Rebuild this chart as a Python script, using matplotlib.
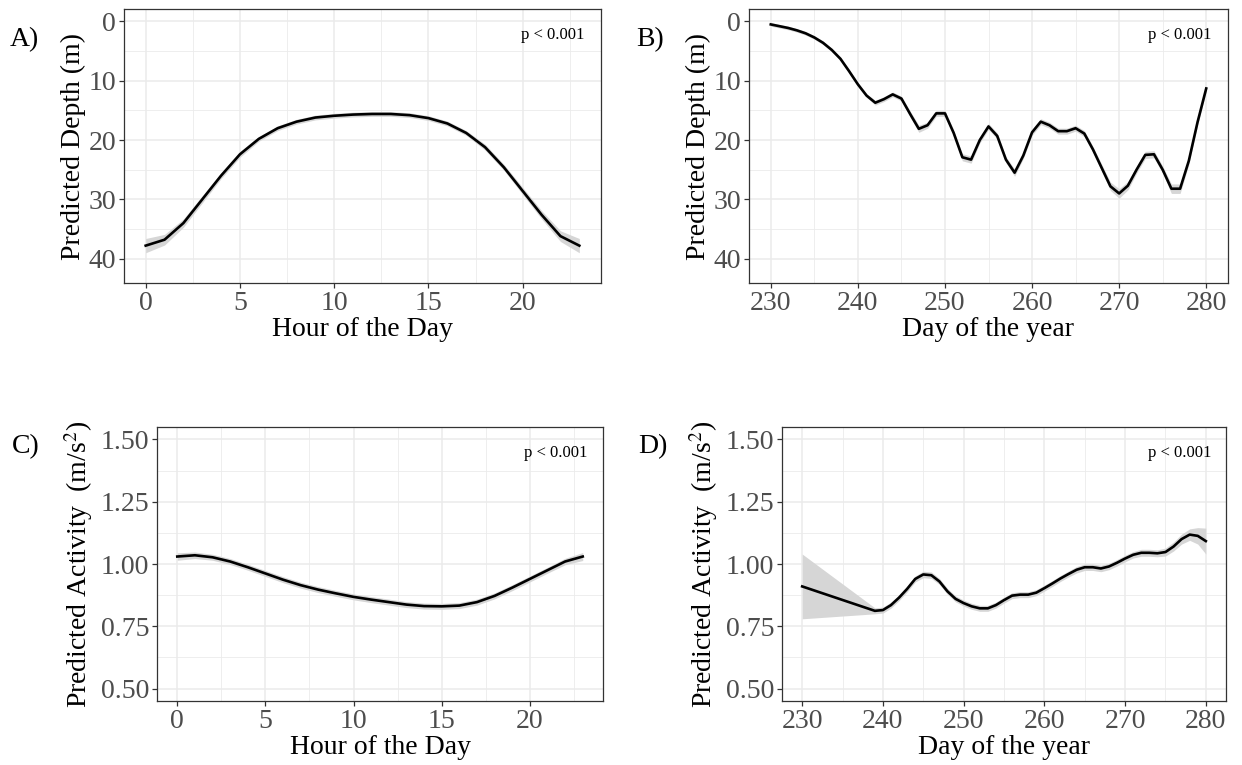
import numpy as np
import matplotlib
matplotlib.use("Agg")
import matplotlib.pyplot as plt
from matplotlib.ticker import MultipleLocator, FormatStrFormatter

plt.rcParams['font.family'] = ['Liberation Serif', 'DejaVu Serif']
plt.rcParams['mathtext.fontset'] = 'stix'

# Panel A - depth by hour
hours = list(range(24))
depth_hour = [37.8, 36.8, 34.0, 30.0, 26.0, 22.4, 19.8, 18.0, 16.9, 16.2, 15.9, 15.7,
              15.6, 15.6, 15.8, 16.3, 17.2, 18.8, 21.2, 24.6, 28.6, 32.6, 36.2, 37.8]
depth_hour_se = [1.2, 0.9, 0.7, 0.6, 0.5, 0.5, 0.4, 0.4, 0.4, 0.4, 0.4, 0.4,
                 0.4, 0.4, 0.4, 0.4, 0.4, 0.4, 0.5, 0.5, 0.6, 0.7, 0.9, 1.2]

# Panel B - depth by day of year
days = list(range(230, 281))
depth_day = [0.5, 0.8, 1.1, 1.5, 2.0, 2.7, 3.6, 4.8, 6.3, 8.4, 10.6, 12.5, 13.7, 13.1,
             12.3, 13.0, 15.6, 18.1, 17.5, 15.5, 15.5, 18.8, 22.9, 23.3, 20.0, 17.7,
             19.3, 23.3, 25.5, 22.6, 18.7, 16.9, 17.5, 18.5, 18.5, 18.0, 18.9, 21.6,
             24.7, 27.8, 29.0, 27.7, 25.0, 22.5, 22.4, 25.0, 28.2, 28.2, 23.5, 17.0, 11.3]
depth_day_se = [0.3, 0.3, 0.3, 0.3, 0.3, 0.3, 0.3, 0.3, 0.3, 0.3, 0.3, 0.3, 0.4, 0.4,
                0.4, 0.4, 0.5, 0.6, 0.5, 0.5, 0.5, 0.5, 0.6, 0.6, 0.5, 0.5,
                0.5, 0.5, 0.6, 0.5, 0.5, 0.5, 0.5, 0.5, 0.5, 0.5, 0.5, 0.5,
                0.6, 0.7, 0.8, 0.7, 0.6, 0.6, 0.6, 0.6, 0.8, 0.8, 0.6, 0.5, 0.5]

# Panel C - activity by hour
act_hour = [1.030, 1.035, 1.027, 1.010, 0.987, 0.962, 0.937, 0.915, 0.897, 0.882, 0.868, 0.857,
            0.847, 0.837, 0.831, 0.830, 0.833, 0.847, 0.872, 0.905, 0.940, 0.975, 1.010, 1.030]
act_hour_se = [0.015, 0.013, 0.012, 0.012, 0.012, 0.012, 0.012, 0.012, 0.012, 0.012, 0.012, 0.012,
               0.012, 0.012, 0.012, 0.012, 0.012, 0.012, 0.012, 0.012, 0.012, 0.012, 0.013, 0.016]

# Panel D - activity by day of year
act_days = [230] + list(range(239, 281))
act_day = [0.910, 0.812, 0.815, 0.835, 0.865, 0.900, 0.940, 0.958, 0.955, 0.930, 0.890,
           0.860, 0.843, 0.830, 0.822, 0.822, 0.835, 0.855, 0.873, 0.877, 0.877, 0.885,
           0.903, 0.922, 0.942, 0.960, 0.977, 0.987, 0.987, 0.982, 0.990, 1.005, 1.022,
           1.037, 1.045, 1.045, 1.043, 1.048, 1.070, 1.100, 1.118, 1.113, 1.092]
act_day_lo = [0.780, 0.800, 0.803, 0.823, 0.853, 0.888, 0.928, 0.945, 0.942, 0.918, 0.878,
              0.848, 0.831, 0.818, 0.810, 0.810, 0.823, 0.843, 0.861, 0.865, 0.865, 0.873,
              0.891, 0.910, 0.930, 0.948, 0.964, 0.974, 0.974, 0.969, 0.977, 0.992, 1.009,
              1.024, 1.031, 1.031, 1.029, 1.032, 1.052, 1.080, 1.095, 1.080, 1.040]
act_day_hi = [1.040, 0.824, 0.827, 0.847, 0.877, 0.912, 0.952, 0.971, 0.968, 0.942, 0.902,
              0.872, 0.855, 0.842, 0.834, 0.834, 0.847, 0.867, 0.885, 0.889, 0.889, 0.897,
              0.915, 0.934, 0.954, 0.972, 0.990, 1.000, 1.000, 0.995, 1.003, 1.018, 1.035,
              1.050, 1.059, 1.059, 1.057, 1.064, 1.088, 1.120, 1.141, 1.146, 1.144]

RIBBON = '#D6D6D6'
W, H = 1242, 765


def px_axes(fig, x0, y0, x1, y1):
    # box given in pixels from the top-left corner
    return fig.add_axes([x0 / W, 1 - y1 / H, (x1 - x0) / W, (y1 - y0) / H])


def style_axes(ax):
    ax.set_facecolor('white')
    for s in ax.spines.values():
        s.set_color('#333333')
        s.set_linewidth(0.9)
    ax.grid(True, which='major', color='#EBEBEB', linewidth=1.1)
    ax.grid(True, which='minor', color='#EBEBEB', linewidth=0.6)
    ax.set_axisbelow(True)
    ax.tick_params(which='major', length=3.6, width=0.9, color='#333333',
                   labelsize=20, labelcolor='#4D4D4D', pad=2)
    ax.tick_params(which='minor', length=0)


def p_label(ax):
    ax.text(0.966, 0.905, 'p < 0.001', transform=ax.transAxes, ha='right', va='center', fontsize=12)


fig = plt.figure(figsize=(W / 100, H / 100), dpi=100)

# A
ax = px_axes(fig, 124, 9, 601, 283)
lo = [d - s for d, s in zip(depth_hour, depth_hour_se)]
hi = [d + s for d, s in zip(depth_hour, depth_hour_se)]
ax.fill_between(hours, lo, hi, color=RIBBON, lw=0)
ax.plot(hours, depth_hour, color='black', lw=1.9)
ax.set_xlim(-1.15, 24.15)
ax.set_ylim(44.1, -2.1)
ax.xaxis.set_major_locator(MultipleLocator(5))
ax.xaxis.set_minor_locator(MultipleLocator(2.5))
ax.yaxis.set_major_locator(MultipleLocator(10))
ax.yaxis.set_minor_locator(MultipleLocator(5))
style_axes(ax)
ax.set_xlabel('Hour of the Day', fontsize=20, labelpad=1)
ax.set_ylabel('Predicted Depth (m)', fontsize=20, labelpad=2)
p_label(ax)
fig.text(10 / W, 1 - 40 / H, 'A)', fontsize=20, va='center', ha='left')

# B
ax = px_axes(fig, 749, 9, 1228, 283)
lo = [d - s for d, s in zip(depth_day, depth_day_se)]
hi = [d + s for d, s in zip(depth_day, depth_day_se)]
ax.fill_between(days, lo, hi, color=RIBBON, lw=0)
ax.plot(days, depth_day, color='black', lw=1.9)
ax.set_xlim(227.5, 282.5)
ax.set_ylim(44.1, -2.1)
ax.xaxis.set_major_locator(MultipleLocator(10))
ax.xaxis.set_minor_locator(MultipleLocator(5))
ax.yaxis.set_major_locator(MultipleLocator(10))
ax.yaxis.set_minor_locator(MultipleLocator(5))
style_axes(ax)
ax.set_xlabel('Day of the year', fontsize=20, labelpad=1)
ax.set_ylabel('Predicted Depth (m)', fontsize=20, labelpad=2)
p_label(ax)
fig.text(636 / W, 1 - 40 / H, 'B)', fontsize=20, va='center', ha='left')

# C
ax = px_axes(fig, 157, 427, 603, 701)
lo = [d - s for d, s in zip(act_hour, act_hour_se)]
hi = [d + s for d, s in zip(act_hour, act_hour_se)]
ax.fill_between(hours, lo, hi, color=RIBBON, lw=0)
ax.plot(hours, act_hour, color='black', lw=1.9)
ax.set_xlim(-1.15, 24.15)
ax.set_ylim(0.45, 1.55)
ax.xaxis.set_major_locator(MultipleLocator(5))
ax.xaxis.set_minor_locator(MultipleLocator(2.5))
ax.yaxis.set_major_locator(MultipleLocator(0.25))
ax.yaxis.set_minor_locator(MultipleLocator(0.125))
ax.yaxis.set_major_formatter(FormatStrFormatter('%.2f'))
style_axes(ax)
ax.set_xlabel('Hour of the Day', fontsize=20, labelpad=1)
ax.set_ylabel(r'Predicted Activity  (m/s$^{2}$)', fontsize=20, labelpad=4)
p_label(ax)
fig.text(12 / W, 1 - 447 / H, 'C)', fontsize=20, va='center', ha='left')

# D
ax = px_axes(fig, 782, 427, 1226, 701)
ax.fill_between(act_days, act_day_lo, act_day_hi, color=RIBBON, lw=0)
ax.plot(act_days, act_day, color='black', lw=1.9)
ax.set_xlim(227.5, 282.5)
ax.set_ylim(0.45, 1.55)
ax.xaxis.set_major_locator(MultipleLocator(10))
ax.xaxis.set_minor_locator(MultipleLocator(5))
ax.yaxis.set_major_locator(MultipleLocator(0.25))
ax.yaxis.set_minor_locator(MultipleLocator(0.125))
ax.yaxis.set_major_formatter(FormatStrFormatter('%.2f'))
style_axes(ax)
ax.set_xlabel('Day of the year', fontsize=20, labelpad=1)
ax.set_ylabel(r'Predicted Activity  (m/s$^{2}$)', fontsize=20, labelpad=4)
p_label(ax)
fig.text(638 / W, 1 - 447 / H, 'D)', fontsize=20, va='center', ha='left')

fig.savefig('out.png', dpi=100, facecolor='white')
